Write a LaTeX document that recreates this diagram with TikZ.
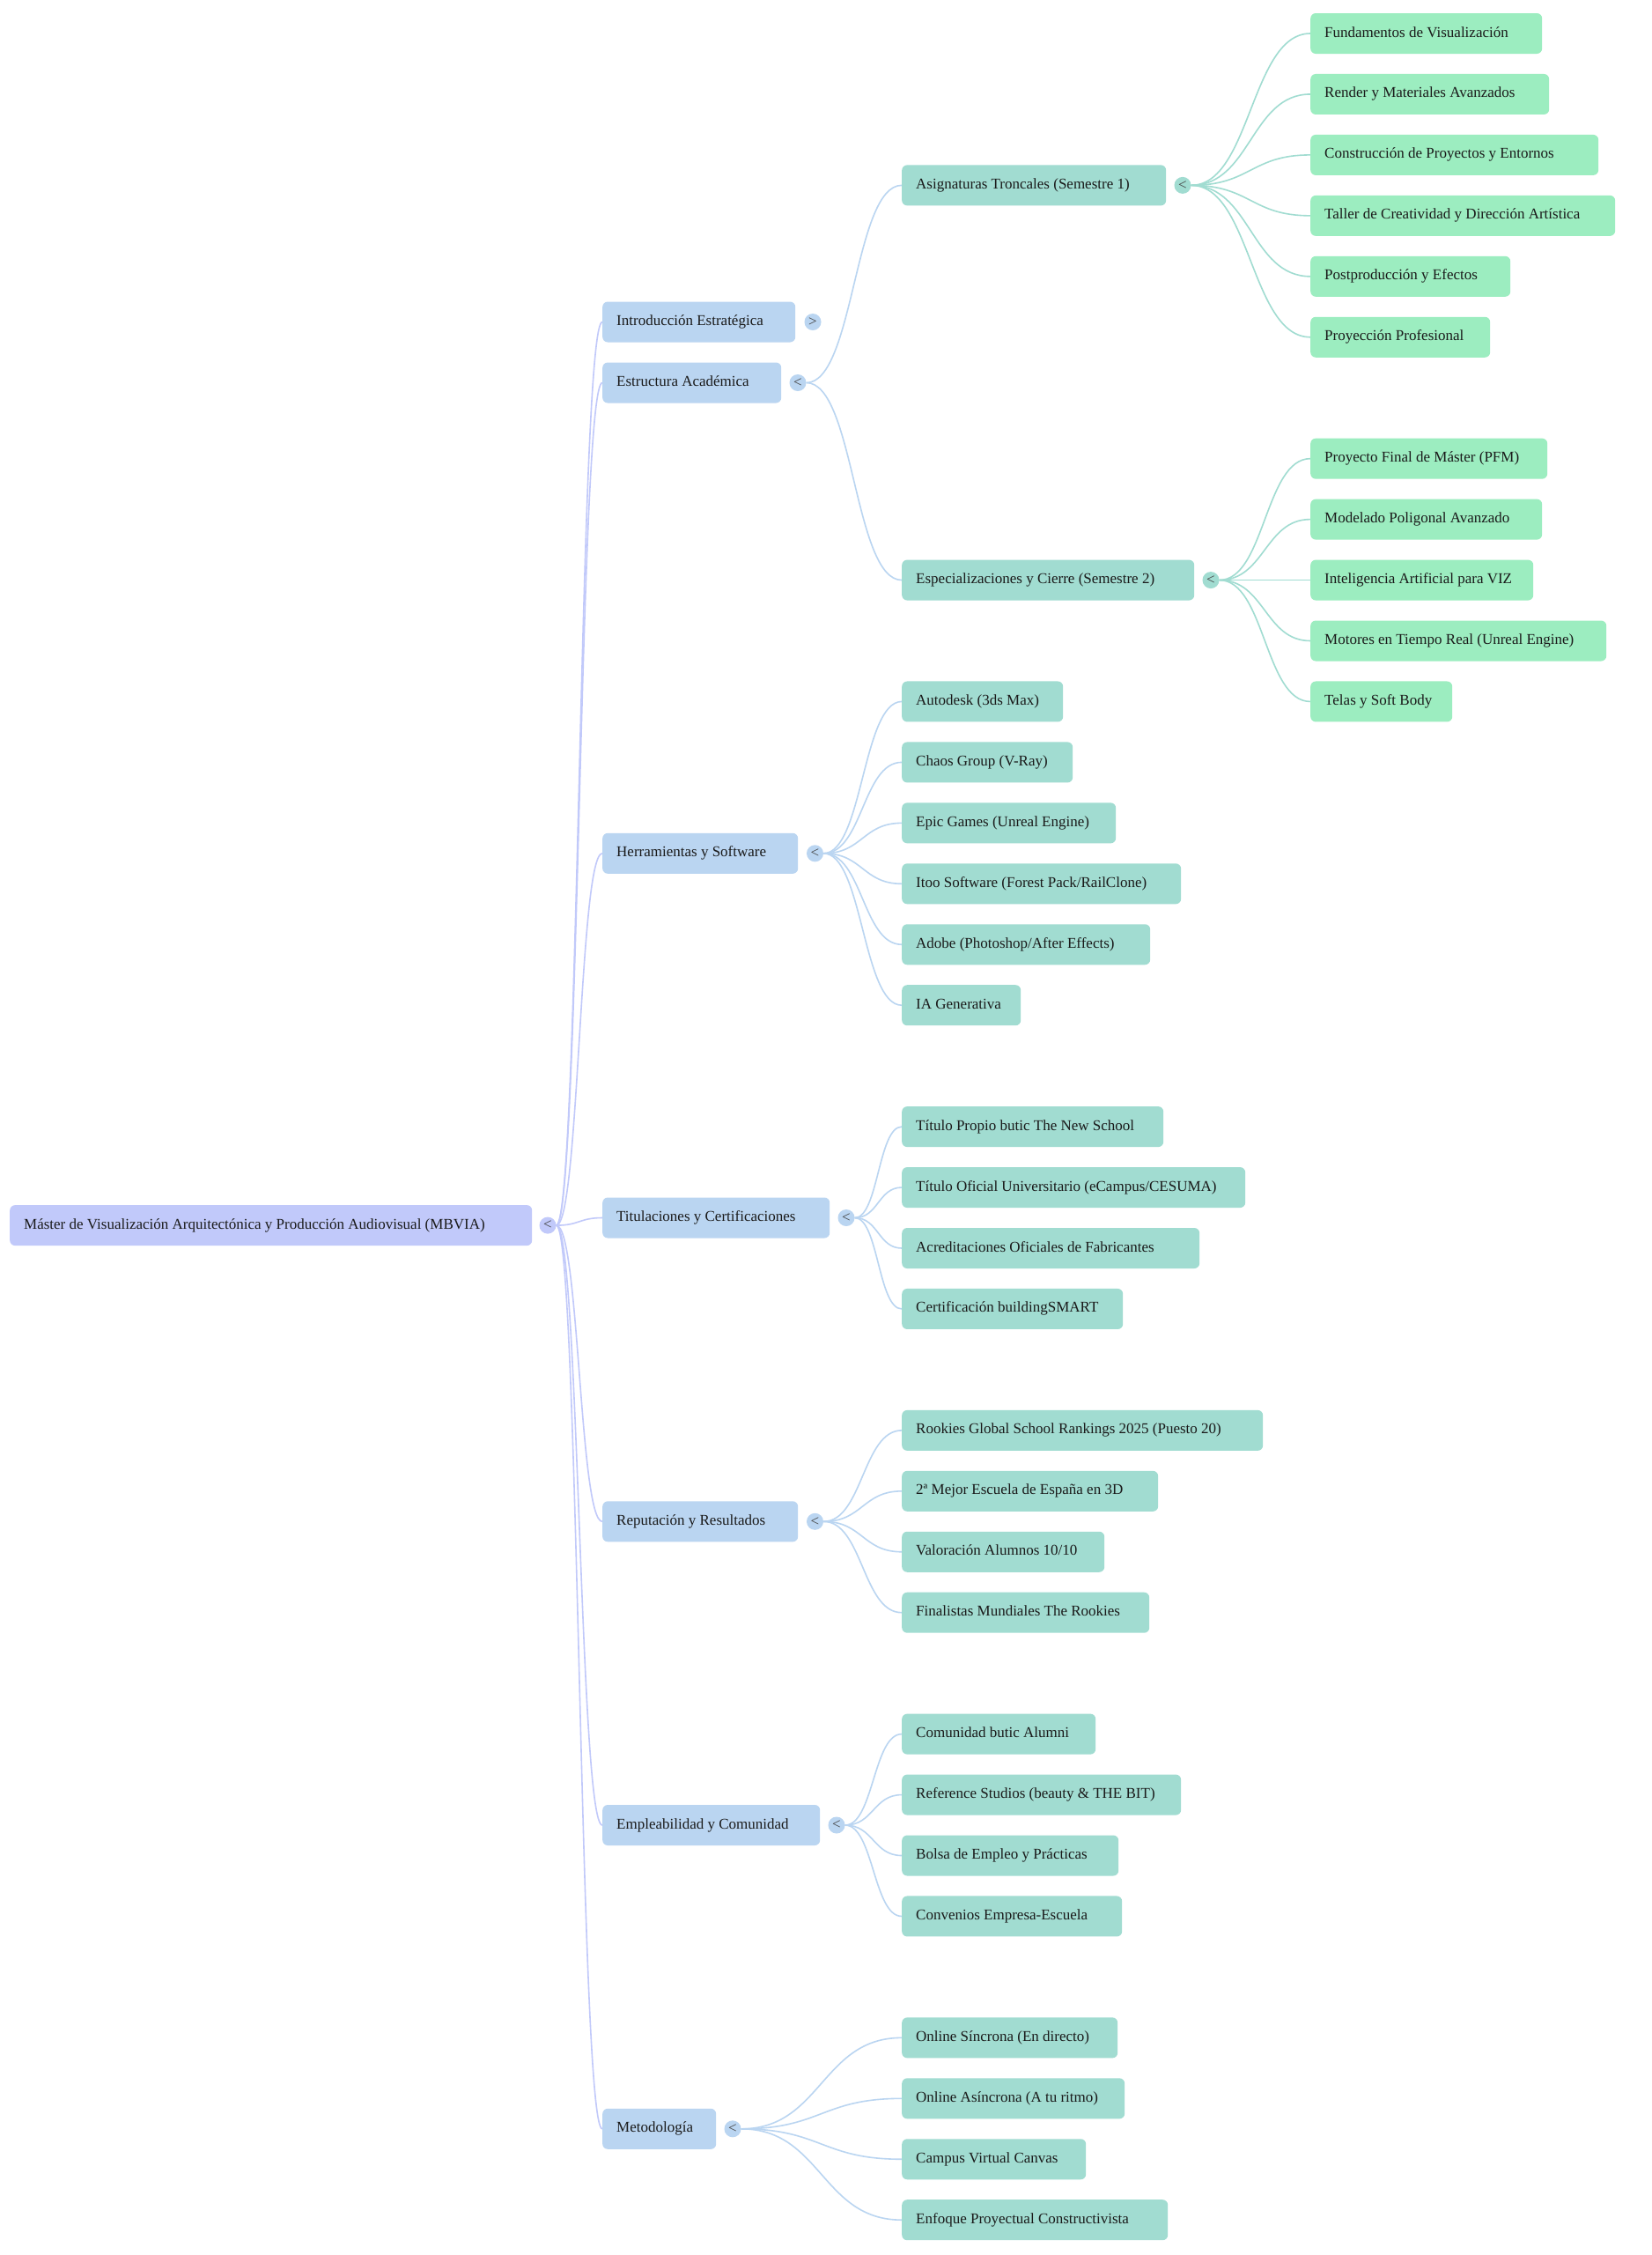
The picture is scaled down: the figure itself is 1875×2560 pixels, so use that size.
\documentclass[tikz,border=0pt]{standalone}
\usepackage{fontspec}
\setmainfont{Liberation Serif}
\usetikzlibrary{calc,backgrounds}
\definecolor{c0}{HTML}{C1C9FA}
\definecolor{c1}{HTML}{BAD5F1}
\definecolor{c2}{HTML}{A1DCD1}
\definecolor{c3}{HTML}{9CEDC0}
\definecolor{txt}{HTML}{1A1A1A}
\definecolor{tgtxt}{HTML}{444444}
\tikzset{
  box/.style={rectangle,rounded corners=6pt,fill=#1,draw=none,minimum height=46pt,
    inner xsep=16pt,inner ysep=0pt,text height=12pt,text depth=4pt,text=txt,
    font=\fontsize{17}{20}\selectfont},
  togl/.style={circle,fill=#1,draw=none,minimum size=19pt,inner sep=0pt,
    text=tgtxt,font=\fontsize{17}{17}\selectfont},
  lk/.style={draw=#1,line width=1.6pt},
  mmcurve/.style={to path={let \p1=(\tikztostart), \p2=(\tikztotarget) in
    .. controls ({(\x1+\x2)/2},\y1) and ({(\x1+\x2)/2},\y2) .. (\tikztotarget)}}
}
\newcommand\mm[6]{\node[box=#1,anchor=west] (#2) at (#3,#4) {\makebox[\dimexpr #5pt-#3pt-32pt\relax][l]{#6}};}
\begin{document}
\begin{tikzpicture}[x=1pt,y=-1pt]
\useasboundingbox (0,0) rectangle (1875,2560);

% root
\mm{c0}{root}{11}{1391.1}{604}{Máster de Visualización Arquitectónica y Producción Audiovisual (MBVIA)}
\node[togl=c0] (troot) at (622,1391.1) {<};

% level 1
\mm{c1}{intro}{684}{365.5}{903}{Introducción Estratégica}
\mm{c1}{estr}{684}{434.5}{887}{Estructura Académica}
\mm{c1}{herr}{684}{968.8}{906}{Herramientas y Software}
\mm{c1}{titu}{684}{1382.5}{942}{Titulaciones y Certificaciones}
\mm{c1}{repu}{684}{1727.3}{906}{Reputación y Resultados}
\mm{c1}{empl}{684}{2072}{931}{Empleabilidad y Comunidad}
\mm{c1}{meto}{684}{2416.8}{813}{Metodología}
\node[togl=c1] (tintro) at (923,365.5) {>};
\node[togl=c1] (testr) at (906,434.5) {<};
\node[togl=c1] (therr) at (925.5,968.8) {<};
\node[togl=c1] (ttitu) at (961,1382.5) {<};
\node[togl=c1] (trepu) at (925.5,1727.3) {<};
\node[togl=c1] (templ) at (950,2072) {<};
\node[togl=c1] (tmeto) at (832,2416.8) {<};

% level 2
\mm{c2}{asig}{1024}{210.375}{1324}{Asignaturas Troncales (Semestre 1)}
\mm{c2}{espe}{1024}{658.55}{1356}{Especializaciones y Cierre (Semestre 2)}
\node[togl=c2] (tasig) at (1343,210.375) {<};
\node[togl=c2] (tespe) at (1375,658.55) {<};

\mm{c2}{h1}{1024}{796.45}{1207}{Autodesk (3ds Max)}
\mm{c2}{h2}{1024}{865.4}{1218}{Chaos Group (V-Ray)}
\mm{c2}{h3}{1024}{934.35}{1267}{Epic Games (Unreal Engine)}
\mm{c2}{h4}{1024}{1003.3}{1341}{Itoo Software (Forest Pack/RailClone)}
\mm{c2}{h5}{1024}{1072.25}{1306}{Adobe (Photoshop/After Effects)}
\mm{c2}{h6}{1024}{1141.2}{1159}{IA Generativa}

\mm{c2}{t1}{1024}{1279.1}{1321}{Título Propio butic The New School}
\mm{c2}{t2}{1024}{1348.05}{1414}{Título Oficial Universitario (eCampus/CESUMA)}
\mm{c2}{t3}{1024}{1417}{1362}{Acreditaciones Oficiales de Fabricantes}
\mm{c2}{t4}{1024}{1485.95}{1275}{Certificación buildingSMART}

\mm{c2}{r1}{1024}{1623.85}{1434}{Rookies Global School Rankings 2025 (Puesto 20)}
\mm{c2}{r2}{1024}{1692.8}{1315}{2ª Mejor Escuela de España en 3D}
\mm{c2}{r3}{1024}{1761.75}{1254}{Valoración Alumnos 10/10}
\mm{c2}{r4}{1024}{1830.7}{1305}{Finalistas Mundiales The Rookies}

\mm{c2}{e1}{1024}{1968.6}{1244}{Comunidad butic Alumni}
\mm{c2}{e2}{1024}{2037.55}{1341}{Reference Studios (beauty \& THE BIT)}
\mm{c2}{e3}{1024}{2106.5}{1270}{Bolsa de Empleo y Prácticas}
\mm{c2}{e4}{1024}{2175.45}{1274}{Convenios Empresa-Escuela}

\mm{c2}{m1}{1024}{2313.35}{1269}{Online Síncrona (En directo)}
\mm{c2}{m2}{1024}{2382.3}{1277}{Online Asíncrona (A tu ritmo)}
\mm{c2}{m3}{1024}{2451.25}{1233}{Campus Virtual Canvas}
\mm{c2}{m4}{1024}{2520.2}{1326}{Enfoque Proyectual Constructivista}

% level 3
\mm{c3}{a1}{1488}{38}{1751}{Fundamentos de Visualización}
\mm{c3}{a2}{1488}{106.95}{1759}{Render y Materiales Avanzados}
\mm{c3}{a3}{1488}{175.9}{1815}{Construcción de Proyectos y Entornos}
\mm{c3}{a4}{1488}{244.85}{1834}{Taller de Creatividad y Dirección Artística}
\mm{c3}{a5}{1488}{313.8}{1715}{Postproducción y Efectos}
\mm{c3}{a6}{1488}{382.75}{1692}{Proyección Profesional}

\mm{c3}{s1}{1488}{520.65}{1757}{Proyecto Final de Máster (PFM)}
\mm{c3}{s2}{1488}{589.6}{1751}{Modelado Poligonal Avanzado}
\mm{c3}{s3}{1488}{658.55}{1741}{Inteligencia Artificial para VIZ}
\mm{c3}{s4}{1488}{727.5}{1824}{Motores en Tiempo Real (Unreal Engine)}
\mm{c3}{s5}{1488}{796.45}{1649}{Telas y Soft Body}

\begin{scope}[on background layer]
  \fill[white] (0,0) rectangle (1875,2560);
  \foreach \nd in {intro,estr,herr,titu,repu,empl,meto}
    \draw[lk=c0] (troot.east) to[mmcurve] (\nd.west);
  \foreach \nd in {asig,espe}
    \draw[lk=c1] (testr.east) to[mmcurve] (\nd.west);
  \foreach \nd in {h1,h2,h3,h4,h5,h6}
    \draw[lk=c1] (therr.east) to[mmcurve] (\nd.west);
  \foreach \nd in {t1,t2,t3,t4}
    \draw[lk=c1] (ttitu.east) to[mmcurve] (\nd.west);
  \foreach \nd in {r1,r2,r3,r4}
    \draw[lk=c1] (trepu.east) to[mmcurve] (\nd.west);
  \foreach \nd in {e1,e2,e3,e4}
    \draw[lk=c1] (templ.east) to[mmcurve] (\nd.west);
  \foreach \nd in {m1,m2,m3,m4}
    \draw[lk=c1] (tmeto.east) to[mmcurve] (\nd.west);
  \foreach \nd in {a1,a2,a3,a4,a5,a6}
    \draw[lk=c2] (tasig.east) to[mmcurve] (\nd.west);
  \foreach \nd in {s1,s2,s3,s4,s5}
    \draw[lk=c2] (tespe.east) to[mmcurve] (\nd.west);
\end{scope}
\end{tikzpicture}
\end{document}
